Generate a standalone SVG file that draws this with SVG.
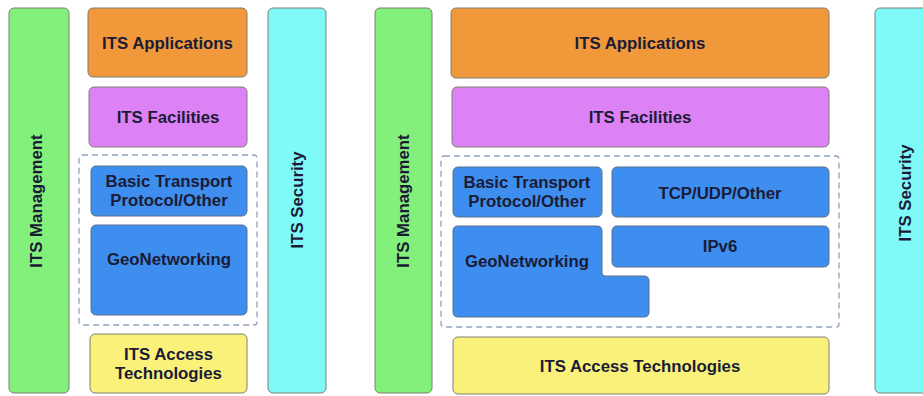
<svg xmlns="http://www.w3.org/2000/svg" width="923" height="396" viewBox="0 0 923 396">
<style>
.b{stroke:#7f7f72;stroke-width:1}
.mg{fill:#82f07b}
.sc{fill:#80f9f9}
.ap{fill:#f0983a}
.fa{fill:#dc82f4}
.bl{fill:#3d8eef;stroke:#5a6f8e}
.ac{fill:#f9f17a}
.d{fill:none;stroke:#8fa3bb;stroke-width:1.3;stroke-dasharray:6 4}
text{font-family:"Liberation Sans",Arial,sans-serif;font-weight:bold;font-size:16.8px;fill:#1b1b36;text-anchor:middle}
</style>
<rect width="923" height="396" fill="#ffffff"/>
<g id="left">
<g id="l-mgmt"><rect class="b mg" x="9" y="8" width="60" height="385" rx="5"/><text transform="translate(42,201) rotate(-90)">ITS Management</text></g>
<g id="l-sec"><rect class="b sc" x="268" y="8" width="58" height="385" rx="5"/><text transform="translate(303,200) rotate(-90)">ITS Security</text></g>
<g id="l-app"><rect class="b ap" x="88" y="8" width="159" height="69" rx="5"/><text x="167.5" y="48.5">ITS Applications</text></g>
<g id="l-fac"><rect class="b fa" x="89" y="87" width="158" height="60" rx="5"/><text x="168" y="122.5">ITS Facilities</text></g>
<g id="l-group"><rect class="d" x="79" y="155" width="178" height="170" rx="3"/></g>
<g id="l-btp"><rect class="b bl" x="91" y="166" width="156" height="50" rx="5"/><text x="169" y="187">Basic Transport</text><text x="169" y="206">Protocol/Other</text></g>
<g id="l-geo"><rect class="b bl" x="91" y="225" width="156" height="90" rx="5"/><text x="169" y="265">GeoNetworking</text></g>
<g id="l-acc"><rect class="b ac" x="90" y="334" width="157" height="59" rx="5"/><text x="168.5" y="360">ITS Access</text><text x="168.5" y="379">Technologies</text></g>
</g>
<g id="right">
<g id="r-mgmt"><rect class="b mg" x="375" y="8" width="57" height="385" rx="5"/><text transform="translate(409,201) rotate(-90)">ITS Management</text></g>
<g id="r-sec"><rect class="b sc" x="875" y="8" width="60" height="385" rx="5"/><text transform="translate(911,193) rotate(-90)">ITS Security</text></g>
<g id="r-app"><rect class="b ap" x="451" y="8" width="378" height="70" rx="5"/><text x="640" y="48.5">ITS Applications</text></g>
<g id="r-fac"><rect class="b fa" x="452" y="87" width="377" height="60" rx="5"/><text x="640" y="122.5">ITS Facilities</text></g>
<g id="r-group"><rect class="d" x="441" y="156" width="398" height="171" rx="3"/></g>
<g id="r-btp"><rect class="b bl" x="453" y="167" width="149" height="50" rx="5"/><text x="527" y="188">Basic Transport</text><text x="527" y="207">Protocol/Other</text></g>
<g id="r-tcp"><rect class="b bl" x="612" y="167" width="217" height="50" rx="5"/><text x="720" y="199">TCP/UDP/Other</text></g>
<g id="r-ipv6"><rect class="b bl" x="612" y="226" width="217" height="41" rx="5"/><text x="720" y="252">IPv6</text></g>
<g id="r-geo"><path class="b bl" d="M458,226 H597 Q602,226 602,231 V273 Q602,276 605,276 H644 Q649,276 649,281 V312 Q649,317 644,317 H458 Q453,317 453,312 V231 Q453,226 458,226 Z"/><text x="527" y="267">GeoNetworking</text></g>
<g id="r-acc"><rect class="b ac" x="453" y="337" width="376" height="57" rx="5"/><text x="640" y="372">ITS Access Technologies</text></g>
</g>
<g id="connectors"></g>
</svg>
